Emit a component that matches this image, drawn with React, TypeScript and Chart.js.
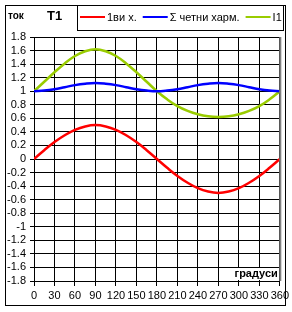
import React, { useEffect, useRef } from "react";
import { Chart, registerables } from "chart.js";

Chart.register(...registerables);

// ---- data ----
const degrees = [0, 15, 30, 45, 60, 75, 90, 105, 120, 135, 150, 165, 180, 195, 210, 225, 240, 255, 270, 285, 300, 315, 330, 345, 360];
const firstHarmonic = [0, 0.13, 0.25, 0.35, 0.43, 0.48, 0.5, 0.48, 0.43, 0.35, 0.25, 0.13, 0, -0.13, -0.25, -0.35, -0.43, -0.48, -0.5, -0.48, -0.43, -0.35, -0.25, -0.13, 0];
const evenHarmonics = [1, 1.01, 1.03, 1.06, 1.09, 1.11, 1.12, 1.11, 1.09, 1.06, 1.03, 1.01, 1, 1.01, 1.03, 1.06, 1.09, 1.11, 1.12, 1.11, 1.09, 1.06, 1.03, 1.01, 1];
const currentI1 = [1, 1.14, 1.28, 1.41, 1.52, 1.59, 1.62, 1.59, 1.52, 1.41, 1.28, 1.14, 1, 0.88, 0.78, 0.71, 0.66, 0.63, 0.62, 0.63, 0.66, 0.71, 0.78, 0.88, 1];

const xTicks = [0, 30, 60, 90, 120, 150, 180, 210, 240, 270, 300, 330, 360];
const yTicks = [-1.8, -1.6, -1.4, -1.2, -1, -0.8, -0.6, -0.4, -0.2, 0, 0.2, 0.4, 0.6, 0.8, 1, 1.2, 1.4, 1.6, 1.8];

const seriesNames = ["1ви х.", "Σ четни харм.", "I1"];
const seriesColors = ["#FF0000", "#0000FF", "#99CC00"];
const seriesValues = [firstHarmonic, evenHarmonics, currentI1];

const yTitle = "ток";
const chartTitle = "T1";
const xTitle = "градуси";

const FONT = "'Liberation Sans', Arial, sans-serif";

const decorPlugin = {
  id: "decor",
  afterDraw(chart: any) {
    const ctx = chart.ctx;
    const area = chart.chartArea;
    ctx.save();
    // gray right border of plot area
    ctx.strokeStyle = "#808080";
    ctx.lineWidth = 2;
    ctx.beginPath();
    ctx.moveTo(area.right + 0.5, area.top);
    ctx.lineTo(area.right + 0.5, area.bottom);
    ctx.stroke();

    // outer frame
    ctx.strokeStyle = "#000";
    ctx.lineWidth = 1;
    ctx.strokeRect(5.5, 5.5, 280, 300);

    // legend box
    ctx.strokeRect(77.5, 5.5, 206, 25);
    ctx.font = "11px " + FONT;
    ctx.textBaseline = "middle";
    ctx.textAlign = "left";
    let x = 80;
    const ly = 17;
    chart.data.datasets.forEach((ds: any) => {
      ctx.strokeStyle = ds.borderColor;
      ctx.lineWidth = 2;
      ctx.beginPath();
      ctx.moveTo(x, ly);
      ctx.lineTo(x + 25, ly);
      ctx.stroke();
      ctx.fillStyle = "#000";
      ctx.fillText(ds.label, x + 27, ly + 1);
      x = x + 27 + ctx.measureText(ds.label).width + 6;
    });

    // titles
    ctx.fillStyle = "#000";
    ctx.font = "bold 10px " + FONT;
    ctx.fillText(yTitle, 8, 16);
    ctx.font = "bold 13px " + FONT;
    ctx.fillText(chartTitle, 47, 16);

    // x axis title with white box
    ctx.font = "bold 11px " + FONT;
    const w = ctx.measureText(xTitle).width;
    ctx.fillStyle = "#fff";
    ctx.fillRect(area.right - w - 3, area.bottom - 13, w + 2, 12);
    ctx.fillStyle = "#000";
    ctx.textAlign = "right";
    ctx.fillText(xTitle, area.right - 2, area.bottom - 7);
    ctx.restore();
  },
};

export default function App() {
  const ref = useRef<HTMLCanvasElement>(null);
  useEffect(() => {
    if (!ref.current) return;
    const chart = new Chart(ref.current, {
      type: "line",
      data: {
        datasets: seriesNames.map((name, i) => ({
          label: name,
          data: degrees.map((d, j) => ({ x: d, y: seriesValues[i][j] })),
          borderColor: seriesColors[i],
          backgroundColor: seriesColors[i],
          borderWidth: 2.5,
          pointRadius: 0,
          tension: 0.4,
          fill: false,
        })),
      },
      options: {
        animation: false,
        responsive: false,
        devicePixelRatio: 1,
        layout: { padding: { left: 0, right: 12, top: 37, bottom: 3 } },
        plugins: { legend: { display: false }, tooltip: { enabled: false }, title: { display: false } },
        scales: {
          x: {
            type: "linear",
            min: 0,
            max: 360,
            afterBuildTicks: (s: any) => {
              s.ticks = xTicks.map((v) => ({ value: v }));
            },
            afterFit: (s: any) => {
              s.height = 28;
            },
            grid: { color: "#000", lineWidth: 1, tickLength: 5, tickColor: "#000" },
            border: { display: true, color: "#000", width: 1 },
            ticks: {
              color: "#000",
              font: { family: FONT, size: 11 },
              padding: 3,
              maxRotation: 0,
              autoSkip: false,
              callback: (v: any) => String(v),
            },
          },
          y: {
            type: "linear",
            min: -1.8,
            max: 1.8,
            afterBuildTicks: (s: any) => {
              s.ticks = yTicks.map((v) => ({ value: v }));
            },
            afterFit: (s: any) => {
              s.width = 34;
            },
            grid: { color: "#000", lineWidth: 1, tickLength: 4, tickColor: "#000" },
            border: { display: true, color: "#000", width: 1 },
            ticks: {
              color: "#000",
              font: { family: FONT, size: 11 },
              padding: 4,
              autoSkip: false,
              callback: (v: any) => String(Math.round(Number(v) * 10) / 10),
            },
          },
        },
      },
      plugins: [decorPlugin],
    });
    return () => chart.destroy();
  }, []);
  return (
    <div style={{ position: "absolute", left: 0, top: 0, width: 292, height: 312, background: "#fff" }}>
      <canvas ref={ref} width={292} height={312} style={{ width: 292, height: 312, display: "block" }} />
    </div>
  );
}
